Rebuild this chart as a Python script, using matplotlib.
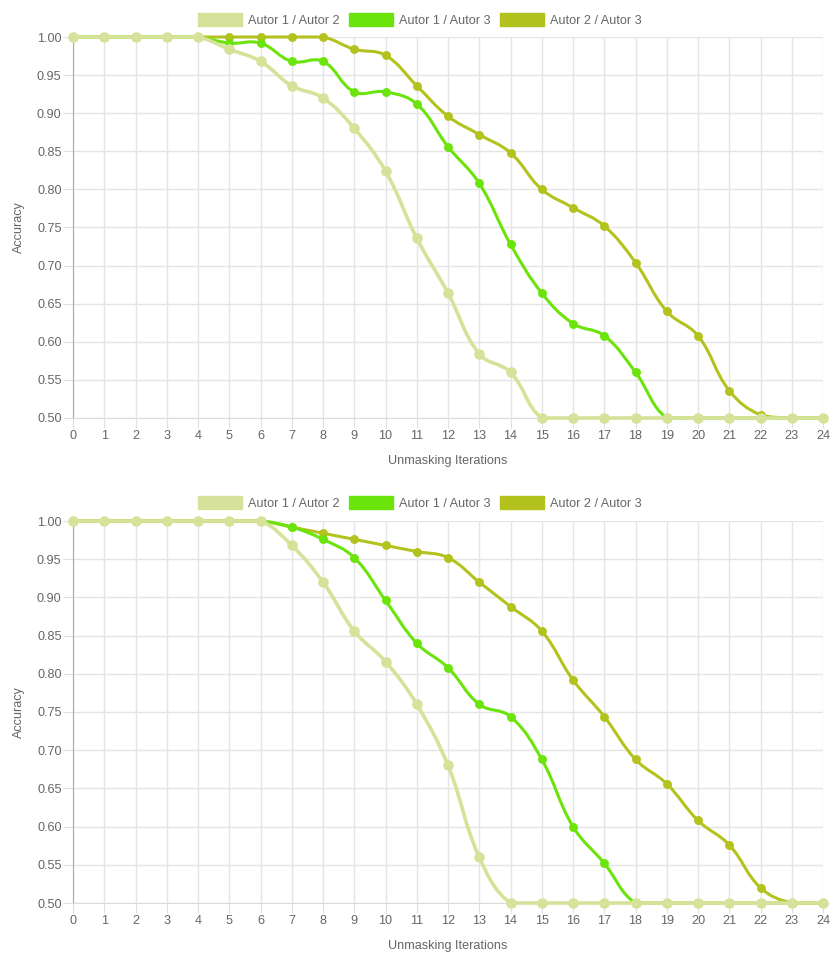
import numpy as np
import matplotlib
matplotlib.use("Agg")
import matplotlib.pyplot as plt
from matplotlib.path import Path
from matplotlib.patches import PathPatch, Patch

plt.rcParams['font.family'] = ['Liberation Sans', 'DejaVu Sans']

iterations = list(range(25))
series_names = ["Autor 1 / Autor 2", "Autor 1 / Autor 3", "Autor 2 / Autor 3"]

# top chart
top_a12 = [1, 1, 1, 1, 1, 0.984, 0.968, 0.936, 0.92, 0.88, 0.824, 0.736, 0.664,
           0.584, 0.56, 0.5, 0.5, 0.5, 0.5, 0.5, 0.5, 0.5, 0.5, 0.5, 0.5]
top_a13 = [1, 1, 1, 1, 1, 0.992, 0.992, 0.968, 0.968, 0.928, 0.928, 0.912, 0.856,
           0.808, 0.728, 0.664, 0.624, 0.608, 0.56, 0.5, 0.5, 0.5, 0.5, 0.5, 0.5]
top_a23 = [1, 1, 1, 1, 1, 1, 1, 1, 1, 0.984, 0.976, 0.936, 0.896,
           0.872, 0.848, 0.8, 0.776, 0.752, 0.704, 0.64, 0.608, 0.536, 0.504, 0.5, 0.5]

# bottom chart
bot_a12 = [1, 1, 1, 1, 1, 1, 1, 0.968, 0.92, 0.856, 0.816, 0.76, 0.68,
           0.56, 0.5, 0.5, 0.5, 0.5, 0.5, 0.5, 0.5, 0.5, 0.5, 0.5, 0.5]
bot_a13 = [1, 1, 1, 1, 1, 1, 1, 0.992, 0.976, 0.952, 0.896, 0.84, 0.808,
           0.76, 0.744, 0.688, 0.6, 0.552, 0.5, 0.5, 0.5, 0.5, 0.5, 0.5, 0.5]
bot_a23 = [1, 1, 1, 1, 1, 1, 1, 0.992, 0.984, 0.976, 0.968, 0.96, 0.952,
           0.92, 0.888, 0.856, 0.792, 0.744, 0.688, 0.656, 0.608, 0.576, 0.52, 0.5, 0.5]

colors = ["#d6e299", "#6ae40a", "#b4c21e"]
line_w = [2.6, 2.2, 2.2]
mark_s = [6.6, 5.4, 5.4]
grey = "#666666"
fs = 9.1

W, H = 831, 955
fig = plt.figure(figsize=(W / 100, H / 100), dpi=100)


def smooth_path(xs, ys, sx, sy, t=0.4, ylim=(0.5, 1.0), xlim=(0, 24)):
    # chart.js style bezier control points, computed in pixel-ish space
    p = np.column_stack([np.array(xs, float) * sx, np.array(ys, float) * sy])
    n = len(p)
    prev_c = np.zeros_like(p)
    next_c = np.zeros_like(p)
    for i in range(n):
        a = p[i - 1] if i > 0 else p[i]
        b = p[i]
        c = p[i + 1] if i < n - 1 else p[i]
        d01 = np.hypot(*(b - a))
        d12 = np.hypot(*(c - b))
        tot = d01 + d12
        s01 = d01 / tot if tot > 0 else 0
        s12 = d12 / tot if tot > 0 else 0
        prev_c[i] = b - t * s01 * (c - a)
        next_c[i] = b + t * s12 * (c - a)
    verts = [p[0]]
    codes = [Path.MOVETO]
    for i in range(n - 1):
        verts += [next_c[i], prev_c[i + 1], p[i + 1]]
        codes += [Path.CURVE4] * 3
    verts = np.array(verts)
    verts[:, 0] = np.clip(verts[:, 0] / sx, *xlim)
    verts[:, 1] = np.clip(verts[:, 1] / sy, *ylim)
    return Path(verts, codes)


def draw_chart(top_px, bottom_px, data, legend_y):
    left, right = 73, 823
    ax = fig.add_axes([left / W, 1 - bottom_px / H, (right - left) / W, (bottom_px - top_px) / H])
    ax.set_xlim(0, 24)
    ax.set_ylim(0.5, 1.0)
    sx = (right - left) / 24.0
    sy = (bottom_px - top_px) / 0.5

    # draw last series first so the first one sits on top
    for k in [2, 1, 0]:
        path = smooth_path(iterations, data[k], sx, sy)
        ax.add_patch(PathPatch(path, fill=False, edgecolor=colors[k], lw=line_w[k],
                               capstyle='round', joinstyle='round', zorder=3 + k * -0.1,
                               clip_on=False))
        ax.plot(iterations, data[k], linestyle='none', marker='o', ms=mark_s[k],
                color=colors[k], mec=colors[k], clip_on=False, zorder=3.05 - k * 0.1)

    ax.set_xticks(iterations)
    ax.set_yticks(np.arange(0.5, 1.0001, 0.05))
    ax.set_yticklabels(["%.2f" % v for v in np.arange(0.5, 1.0001, 0.05)])
    ax.grid(True, color="#e5e5e5", lw=1)
    ax.set_axisbelow(True)
    for s in ['top', 'right']:
        ax.spines[s].set_visible(False)
    ax.spines['left'].set_color("#a8a8a8")
    ax.spines['bottom'].set_color("#dcdcdc")
    ax.tick_params(axis='x', length=7.2, color="#e0e0e0", labelcolor=grey, labelsize=fs, pad=1.5)
    ax.tick_params(axis='y', length=7.2, color="#e0e0e0", labelcolor=grey, labelsize=fs, pad=1)

    ax.set_xlabel("Unmasking Iterations", color=grey, fontsize=fs)
    ax.xaxis.set_label_coords(0.5, -(43.0 / (bottom_px - top_px)))
    ax.xaxis.label.set_va('center')
    ax.set_ylabel("Accuracy", color=grey, fontsize=fs)
    ax.yaxis.set_label_coords(-(54.5 / (right - left)), 0.5)
    ax.yaxis.label.set_va('center')

    handles = [Patch(facecolor=colors[k], edgecolor=colors[k], label=series_names[k]) for k in range(3)]
    fig.legend(handles=handles, loc='center', bbox_to_anchor=(0.505, 1 - legend_y / H), ncol=3,
               frameon=False, fontsize=fs, labelcolor=grey, handlelength=3.55, handleheight=1.2,
               handletextpad=0.45, columnspacing=0.7, borderaxespad=0, borderpad=0)
    return ax


draw_chart(37, 418, [top_a12, top_a13, top_a23], 20)
draw_chart(521, 903, [bot_a12, bot_a13, bot_a23], 503)

fig.savefig("out.png", dpi=100)
